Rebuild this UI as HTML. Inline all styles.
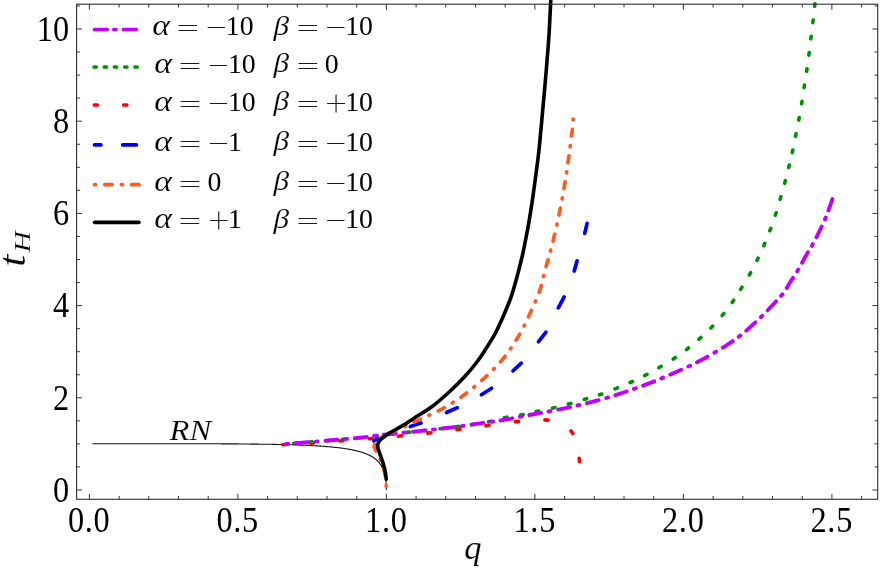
<!DOCTYPE html>
<html><head><meta charset="utf-8"><title>t_H vs q</title>
<style>html,body{margin:0;padding:0;background:#fff}svg{display:block}text{white-space:pre}.thin text{stroke:#fff;stroke-width:0.15px}.bold text{stroke:none}text.it{stroke:#fff;stroke-width:0.15px}</style></head>
<body>
<svg width="881" height="568" viewBox="0 0 881 568" style="will-change:transform">
<g fill="none" stroke-linecap="round" stroke-linejoin="round">
<path d="M92.3,443.7L93.9,443.7L95.5,443.7L97.1,443.7L98.7,443.7L100.3,443.7L101.9,443.7L103.5,443.7L105.1,443.7L106.6,443.7L108.2,443.7L109.8,443.7L111.3,443.7L112.9,443.7L114.4,443.7L116.0,443.7L117.5,443.7L119.1,443.7L120.6,443.7L122.1,443.7L123.6,443.7L125.2,443.7L126.7,443.7L128.2,443.7L129.7,443.7L131.2,443.7L132.7,443.7L134.2,443.7L135.7,443.7L137.1,443.7L138.6,443.7L140.1,443.7L141.5,443.7L143.0,443.7L144.5,443.7L145.9,443.7L147.4,443.7L148.8,443.7L150.2,443.7L151.7,443.7L153.1,443.7L154.5,443.7L155.9,443.7L157.4,443.7L158.8,443.7L160.2,443.7L161.6,443.7L163.0,443.7L164.4,443.7L165.7,443.7L167.1,443.7L168.5,443.7L169.9,443.7L171.2,443.7L172.6,443.7L173.9,443.7L175.3,443.7L176.6,443.7L178.0,443.7L179.3,443.7L180.7,443.7L182.0,443.7L183.3,443.7L184.6,443.7L185.9,443.7L187.3,443.7L188.6,443.8L189.9,443.8L191.2,443.8L192.4,443.8L193.7,443.8L195.0,443.8L196.3,443.8L197.6,443.8L198.8,443.8L200.1,443.8L201.3,443.8L202.6,443.8L203.9,443.8L205.1,443.8L206.3,443.8L207.6,443.8L208.8,443.8L210.0,443.8L211.2,443.8L212.5,443.8L213.7,443.8L214.9,443.8L216.1,443.8L217.3,443.8L218.5,443.8L219.7,443.8L220.8,443.8L222.0,443.9L223.2,443.9L224.4,443.9L225.5,443.9L226.7,443.9L227.9,443.9L229.0,443.9L230.2,443.9L231.3,443.9L232.4,443.9L233.6,443.9L234.7,443.9L235.8,443.9L236.9,443.9L238.1,443.9L239.2,444.0L240.3,444.0L241.4,444.0L242.5,444.0L243.6,444.0L244.7,444.0L245.7,444.0L246.8,444.0L247.9,444.0L249.0,444.0L250.0,444.1L251.1,444.1L252.1,444.1L253.2,444.1L254.2,444.1L255.3,444.1L256.3,444.1L257.4,444.1L258.4,444.1L259.4,444.2L260.4,444.2L261.4,444.2L262.5,444.2L263.5,444.2L264.5,444.2L265.5,444.2L266.5,444.3L267.4,444.3L268.4,444.3L269.4,444.3L270.4,444.3L271.4,444.3L272.3,444.4L273.3,444.4L274.2,444.4L275.2,444.4L276.1,444.4L277.1,444.5L278.0,444.5L279.0,444.5L279.9,444.5L280.8,444.5L281.7,444.6L282.7,444.6L283.6,444.6L284.5,444.6L285.4,444.6L286.3,444.7L287.2,444.7L288.1,444.7L289.0,444.7L289.9,444.8L290.7,444.8L291.6,444.8L292.5,444.8L293.3,444.9L294.2,444.9L295.1,444.9L295.9,444.9L296.8,445.0L297.6,445.0L298.4,445.0L299.3,445.1L300.1,445.1L300.9,445.1L301.7,445.2L302.6,445.2L303.4,445.2L304.2,445.3L305.0,445.3L305.8,445.3L306.6,445.4L307.4,445.4L308.2,445.4L308.9,445.5L309.7,445.5L310.5,445.5L311.3,445.6L312.0,445.6L312.8,445.7L313.6,445.7L314.3,445.7L315.1,445.8L315.8,445.8L316.5,445.9L317.3,445.9L318.0,446.0L318.7,446.0L319.5,446.1L320.2,446.1L320.9,446.1L321.6,446.2L322.3,446.2L323.0,446.3L323.7,446.3L324.4,446.4L325.1,446.4L325.8,446.5L326.5,446.6L327.1,446.6L327.8,446.7L328.5,446.7L329.1,446.8L329.8,446.8L330.5,446.9L331.1,447.0L331.8,447.0L332.4,447.1L333.0,447.1L333.7,447.2L334.3,447.3L334.9,447.3L335.5,447.4L336.2,447.5L336.8,447.5L337.4,447.6L338.0,447.7L338.6,447.7L339.2,447.8L339.8,447.9L340.4,448.0L341.0,448.0L341.5,448.1L342.1,448.2L342.7,448.3L343.3,448.3L343.8,448.4L344.4,448.5L344.9,448.6L345.5,448.7L346.0,448.8L346.6,448.8L347.1,448.9L347.7,449.0L348.2,449.1L348.7,449.2L349.3,449.3L349.8,449.4L350.3,449.5L350.8,449.6L351.3,449.7L351.8,449.8L352.3,449.9L352.8,450.0L353.3,450.1L353.8,450.2L354.3,450.3L354.8,450.4L355.2,450.5L355.7,450.6L356.2,450.7L356.6,450.8L357.1,450.9L357.6,451.1L358.0,451.2L358.5,451.3L358.9,451.4L359.3,451.5L359.8,451.7L360.2,451.8L360.6,451.9L361.1,452.0L361.5,452.2L361.9,452.3L362.3,452.4L362.7,452.6L363.1,452.7L363.5,452.8L363.9,453.0L364.3,453.1L364.7,453.3L365.1,453.4L365.5,453.6L365.9,453.7L366.3,453.9L366.6,454.0L367.0,454.2L367.4,454.3L367.7,454.5L368.1,454.6L368.4,454.8L368.8,455.0L369.1,455.1L369.5,455.3L369.8,455.5L370.1,455.7L370.5,455.8L370.8,456.0L371.1,456.2L371.4,456.4L371.8,456.5L372.1,456.7L372.4,456.9L372.7,457.1L373.0,457.3L373.3,457.5L373.6,457.7L373.9,457.9L374.1,458.1L374.4,458.3L374.7,458.5L375.0,458.7L375.3,458.9L375.5,459.1L375.8,459.4L376.0,459.6L376.3,459.8L376.6,460.0L376.8,460.2L377.1,460.5L377.3,460.7L377.5,460.9L377.8,461.2L378.0,461.4L378.2,461.7L378.5,461.9L378.7,462.2L378.9,462.4L379.1,462.7L379.3,462.9L379.5,463.2L379.7,463.4L379.9,463.7L380.1,464.0L380.3,464.2L380.5,464.5L380.7,464.8L380.9,465.1L381.1,465.4L381.3,465.7L381.4,465.9L381.6,466.2L381.8,466.5L381.9,466.8L382.1,467.1L382.3,467.4L382.4,467.7L382.6,468.1L382.7,468.4L382.9,468.7L383.0,469.0L383.1,469.3L383.3,469.7L383.4,470.0L383.5,470.3L383.7,470.7L383.8,471.0L383.9,471.4L384.0,471.7L384.1,472.1L384.2,472.4L384.3,472.8L384.4,473.1L384.5,473.5L384.6,473.9L384.7,474.3L384.8,474.6L384.9,475.0L385.0,475.4L385.1,475.8L385.2,476.2L385.2,476.6L385.3,477.0L385.4,477.4L385.5,477.8L385.5,478.2L385.6,478.6L385.6,479.0L385.7,479.4L385.8,479.8L385.8,480.3L385.9,480.7L385.9,481.1L385.9,481.5L386.0,482.0L386.0,482.4L386.1,482.9L386.1,483.3L386.1,483.7L386.1,484.2L386.2,484.6L386.2,485.1L386.2,485.5L386.2,486.0L386.2,486.4L386.3,486.9L386.3,487.3L386.3,487.8L386.3,488.2L386.3,488.6L386.3,489.0L386.3,489.4L386.3,489.8" stroke="#111" stroke-width="1.1" stroke-linecap="butt"/>
<path d="M282.7,444.7L285.9,444.5M310.5,443.1L313.7,442.9M339.8,441.0L343.0,440.8M369.1,438.7L372.3,438.5M398.4,436.2L401.6,435.8M427.8,433.1L431.0,432.7M456.9,429.6L460.1,429.2M485.9,425.6L489.1,425.2M515.3,421.6L518.5,421.4M544.9,419.9L548.1,420.1M571.0,431.0L572.8,433.6M579.2,458.4L579.6,461.6" stroke="#ff0000" stroke-width="3.6"/>
<path d="M293.8,443.4L296.4,443.2M309.6,442.1L312.2,441.9M326.7,440.7L329.3,440.4M342.4,439.3L345.0,439.1M358.1,437.9L360.7,437.6M374.6,435.9L377.1,435.5M390.9,434.0L393.5,433.7M407.1,432.4L409.7,432.1M423.4,430.6L426.0,430.4M440.0,428.8L442.6,428.5M456.2,426.8L458.8,426.4M472.5,424.5L475.0,424.1M488.5,421.8L491.0,421.3M504.3,417.8L506.9,417.2M520.6,415.0L523.2,414.6M536.2,411.6L538.8,411.0M552.5,408.2L555.1,407.6M568.3,404.1L570.9,403.5M584.2,399.5L586.6,398.7M599.4,394.8L601.8,394.0M615.1,388.8L617.5,387.8M630.1,382.5L632.5,381.5M644.6,375.6L647.0,374.4M658.9,367.7L661.1,366.3M673.2,359.0L675.4,357.6M686.5,349.6L688.5,348.0M699.0,339.2L701.0,337.4M710.9,327.9L712.7,326.1M722.2,315.5L723.8,313.5M732.3,302.4L733.7,300.2M740.6,289.4L742.0,287.2M749.4,274.9L750.6,272.7M756.9,260.5L758.1,258.1M763.8,245.7L764.8,243.3M769.8,230.7L770.8,228.3M775.4,215.2L776.2,212.8M780.1,199.2L780.9,196.8M784.7,183.3L785.3,180.7M788.7,167.6L789.3,165.0M792.2,152.6L792.8,150.0M795.5,136.3L796.1,133.7M798.8,120.1L799.2,117.5M801.6,103.8L802.0,101.2M804.1,87.6L804.5,85.0M806.6,71.3L807.0,68.7M808.8,55.1L809.2,52.5M810.8,38.8L811.2,36.2M812.8,22.6L813.2,20.0M814.7,6.3L814.9,3.7" stroke="#009000" stroke-width="3.6"/>
<path d="M281.3,444.4C293.2,443.4 335.9,440.0 352.8,438.4C369.7,436.8 370.7,436.2 382.5,434.9C394.3,433.6 411.3,432.0 423.8,430.6C436.3,429.2 446.5,428.1 457.5,426.7C468.5,425.2 482.9,422.9 490.0,421.9C497.1,420.9 495.0,421.5 500.0,420.6C505.0,419.8 512.8,418.2 520.0,416.8C527.2,415.4 534.6,414.1 543.1,412.5C551.6,410.9 561.8,409.0 571.3,406.9C580.8,404.8 591.0,402.3 600.0,399.8C609.0,397.3 616.7,394.8 625.0,392.0C633.3,389.2 641.7,386.2 650.0,383.0C658.3,379.8 666.7,376.2 675.0,372.5C683.3,368.8 691.7,365.2 700.0,360.8C708.3,356.4 717.9,350.8 725.0,346.3C732.1,341.8 736.7,338.5 742.5,333.8C748.3,329.1 754.6,323.2 760.0,318.0C765.4,312.8 771.0,306.8 775.0,302.5C779.0,298.2 781.3,295.8 783.8,292.5C786.3,289.2 787.5,286.4 790.0,282.5C792.5,278.6 796.1,273.4 798.8,268.8C801.5,264.2 803.9,259.2 806.3,255.0C808.7,250.8 810.7,248.0 813.0,243.8C815.3,239.6 817.8,234.6 820.0,230.0C822.2,225.4 824.5,220.7 826.3,216.3C828.1,211.9 829.6,207.2 830.8,203.8C832.0,200.5 833.0,197.5 833.5,196.2" stroke="#bf00ff" stroke-width="3.9" stroke-dasharray="12 7.7 2 7.7" stroke-dashoffset="14.6"/>
<path d="M373.9,441.0L378.2,438.4" stroke="#0000ff" stroke-width="3.7"/>
<path d="M410.3,426.6L421.0,423.0" stroke="#0000ff" stroke-width="3.7"/>
<path d="M446.5,412.5L457.3,407.8" stroke="#0000ff" stroke-width="3.7"/>
<path d="M481.4,394.7L491.6,388.3" stroke="#0000ff" stroke-width="3.7"/>
<path d="M513.0,370.9L521.3,363.1" stroke="#0000ff" stroke-width="3.7"/>
<path d="M538.5,341.7L546.0,332.1" stroke="#0000ff" stroke-width="3.7"/>
<path d="M558.3,307.9L564.2,296.9" stroke="#0000ff" stroke-width="3.7"/>
<path d="M574.2,271.0L577.1,260.8" stroke="#0000ff" stroke-width="3.7"/>
<path d="M584.7,233.4L587.1,223.4" stroke="#0000ff" stroke-width="3.7"/>
<path d="M573.2,119.0C573.1,120.6 572.8,125.8 572.5,128.8C572.2,131.8 571.8,133.1 571.3,137.0C570.8,140.9 570.0,147.8 569.5,152.0C569.0,156.2 568.6,158.2 568.0,162.5C567.4,166.8 566.6,172.5 565.8,177.5C565.0,182.5 564.3,187.1 563.3,192.5C562.3,197.9 561.2,204.2 560.0,210.0C558.8,215.8 557.6,221.7 556.3,227.5C555.0,233.3 553.4,239.6 552.0,245.0C550.6,250.4 549.4,255.0 548.0,260.0C546.6,265.0 545.1,270.0 543.8,275.0C542.5,280.0 541.7,285.0 540.0,290.0C538.3,295.0 535.9,300.2 533.8,305.0C531.7,309.8 529.6,314.4 527.5,318.8C525.4,323.2 523.6,327.1 521.3,331.3C519.0,335.5 516.5,339.6 513.8,343.8C511.1,348.0 507.9,352.6 505.0,356.3C502.1,360.1 499.4,363.0 496.3,366.3C493.2,369.6 489.9,373.0 486.3,376.3C482.8,379.6 478.7,383.2 475.0,386.3C471.3,389.4 467.7,392.3 464.0,395.0C460.3,397.7 456.7,400.1 452.9,402.5C449.1,404.9 445.2,407.3 441.3,409.4C437.4,411.5 433.4,413.1 429.4,415.0C425.4,416.9 421.5,418.7 417.5,420.6C413.5,422.5 409.9,424.4 405.6,426.3C401.4,428.2 395.6,430.4 392.0,432.0C388.4,433.6 386.2,434.6 384.0,435.8C381.8,437.0 380.0,437.9 378.5,439.0C377.0,440.1 375.9,441.2 375.2,442.5C374.5,443.8 374.2,445.2 374.3,446.5C374.4,447.8 374.8,448.2 375.6,450.0C376.4,451.8 378.0,454.3 379.2,457.0C380.4,459.7 381.9,462.5 383.0,466.0C384.1,469.5 385.1,474.7 385.6,478.0C386.1,481.3 386.1,484.7 386.2,486.0" stroke="#ff5a1f" stroke-width="3.7" stroke-dasharray="1.0 9.3 7.0 9.3"/>
<path d="M386.2,479.2C386.1,478.0 385.8,474.3 385.3,471.8C384.9,469.3 384.2,466.9 383.5,464.4C382.8,461.9 381.8,459.3 381.0,457.0C380.2,454.7 379.4,452.6 378.8,450.8C378.2,449.1 377.8,447.8 377.7,446.5C377.6,445.2 377.9,443.9 378.3,442.8C378.8,441.7 379.4,440.8 380.4,439.8C381.4,438.8 382.6,437.8 384.1,436.7C385.6,435.6 387.5,434.3 389.6,433.0C391.8,431.7 394.5,430.1 397.0,428.7C399.5,427.3 401.4,426.5 404.4,424.6C407.4,422.7 410.3,420.6 415.0,417.5C419.7,414.4 426.7,410.7 432.5,406.3C438.3,401.9 444.6,396.3 450.0,391.3C455.4,386.3 460.4,381.3 465.0,376.3C469.6,371.3 473.8,366.3 477.5,361.3C481.2,356.3 484.4,351.3 487.5,346.3C490.6,341.3 493.6,336.5 496.3,331.3C499.0,326.1 501.5,320.2 503.8,315.0C506.1,309.8 508.4,304.2 510.0,300.0C511.6,295.8 512.0,294.2 513.3,290.0C514.5,285.8 516.0,280.8 517.5,275.0C519.0,269.2 520.8,262.5 522.5,255.0C524.2,247.5 526.0,237.9 527.5,230.0C529.0,222.1 530.1,215.0 531.3,207.5C532.5,200.0 533.5,192.5 534.5,185.0C535.5,177.5 536.7,169.0 537.5,162.5C538.3,156.0 538.6,154.3 539.4,146.0C540.2,137.7 541.6,122.7 542.5,112.5C543.4,102.3 544.2,94.6 545.0,85.0C545.8,75.4 546.8,64.2 547.5,55.0C548.2,45.8 548.8,39.2 549.3,30.0C549.8,20.8 550.5,5.0 550.8,0.0" stroke="#000" stroke-width="3.6"/>
</g>
<rect x="76.6" y="4.2" width="801.1" height="495.1" fill="none" stroke="#2e2e2e" stroke-width="1.1"/>
<path d="M89.40,499.3v-5.5M89.40,4.2v5.5M119.10,499.3v-3.3M119.10,4.2v3.3M148.80,499.3v-3.3M148.80,4.2v3.3M178.50,499.3v-3.3M178.50,4.2v3.3M208.20,499.3v-3.3M208.20,4.2v3.3M237.90,499.3v-5.5M237.90,4.2v5.5M267.60,499.3v-3.3M267.60,4.2v3.3M297.30,499.3v-3.3M297.30,4.2v3.3M327.00,499.3v-3.3M327.00,4.2v3.3M356.70,499.3v-3.3M356.70,4.2v3.3M386.40,499.3v-5.5M386.40,4.2v5.5M416.10,499.3v-3.3M416.10,4.2v3.3M445.80,499.3v-3.3M445.80,4.2v3.3M475.50,499.3v-3.3M475.50,4.2v3.3M505.20,499.3v-3.3M505.20,4.2v3.3M534.90,499.3v-5.5M534.90,4.2v5.5M564.60,499.3v-3.3M564.60,4.2v3.3M594.30,499.3v-3.3M594.30,4.2v3.3M624.00,499.3v-3.3M624.00,4.2v3.3M653.70,499.3v-3.3M653.70,4.2v3.3M683.40,499.3v-5.5M683.40,4.2v5.5M713.10,499.3v-3.3M713.10,4.2v3.3M742.80,499.3v-3.3M742.80,4.2v3.3M772.50,499.3v-3.3M772.50,4.2v3.3M802.20,499.3v-3.3M802.20,4.2v3.3M831.90,499.3v-5.5M831.90,4.2v5.5M861.60,499.3v-3.3M861.60,4.2v3.3M76.6,490.00h5.4M877.8,490.00h-5.4M76.6,466.95h3.3M877.8,466.95h-3.3M76.6,443.90h3.3M877.8,443.90h-3.3M76.6,420.85h3.3M877.8,420.85h-3.3M76.6,397.80h5.4M877.8,397.80h-5.4M76.6,374.75h3.3M877.8,374.75h-3.3M76.6,351.70h3.3M877.8,351.70h-3.3M76.6,328.65h3.3M877.8,328.65h-3.3M76.6,305.60h5.4M877.8,305.60h-5.4M76.6,282.55h3.3M877.8,282.55h-3.3M76.6,259.50h3.3M877.8,259.50h-3.3M76.6,236.45h3.3M877.8,236.45h-3.3M76.6,213.40h5.4M877.8,213.40h-5.4M76.6,190.35h3.3M877.8,190.35h-3.3M76.6,167.30h3.3M877.8,167.30h-3.3M76.6,144.25h3.3M877.8,144.25h-3.3M76.6,121.20h5.4M877.8,121.20h-5.4M76.6,98.15h3.3M877.8,98.15h-3.3M76.6,75.10h3.3M877.8,75.10h-3.3M76.6,52.05h3.3M877.8,52.05h-3.3M76.6,29.00h5.4M877.8,29.00h-5.4M76.6,5.95h3.3M877.8,5.95h-3.3" stroke="#2a2a2a" stroke-width="0.95" fill="none"/>
<g font-family="'Liberation Serif', serif" font-size="35.2" fill="#000" class="bold" transform="scale(0.920,1)">
<text x="75.1" y="501.8" text-anchor="end">0</text>
<text x="75.1" y="409.6" text-anchor="end">2</text>
<text x="75.1" y="317.4" text-anchor="end">4</text>
<text x="75.1" y="225.2" text-anchor="end">6</text>
<text x="75.1" y="133.0" text-anchor="end">8</text>
<text x="75.1" y="40.8" text-anchor="end">10</text>
<text x="96.6" y="532.2" text-anchor="middle" textLength="45.5" lengthAdjust="spacing">0.0</text>
<text x="258.0" y="532.2" text-anchor="middle" textLength="45.5" lengthAdjust="spacing">0.5</text>
<text x="419.5" y="532.2" text-anchor="middle" textLength="45.5" lengthAdjust="spacing">1.0</text>
<text x="580.9" y="532.2" text-anchor="middle" textLength="45.5" lengthAdjust="spacing">1.5</text>
<text x="742.3" y="532.2" text-anchor="middle" textLength="45.5" lengthAdjust="spacing">2.0</text>
<text x="903.7" y="532.2" text-anchor="middle" textLength="45.5" lengthAdjust="spacing">2.5</text>
</g>
<g font-family="'Liberation Serif', serif" font-style="italic" fill="#000" class="thin">
<text x="472.8" y="558.9" font-size="34.6" text-anchor="middle">q</text>
<g transform="translate(25.4,266) rotate(-90)"><text x="0" y="0" font-size="38" transform="translate(-0.8,0) scale(1.15,1)">t</text><text x="0" y="0" font-size="23.8" transform="translate(13.6,4.7) scale(1.25,1)">H</text></g>
<text x="169.5" y="440.3" font-size="28.5" textLength="41.6" lengthAdjust="spacingAndGlyphs">RN</text>
</g>
<g fill="none" stroke-linecap="round" stroke-width="3.7">
<path d="M94.45,29.5H107.25M113.85,29.5H115.95M123.45,29.5H136.25" stroke="#bf00ff"/>
<path d="M94.05,67.0H96.15M104.25,67.0H106.35M114.45,67.0H116.55M124.75,67.0H126.85M135.05,67.0H137.15" stroke="#009000"/>
<path d="M94.35,105.0H97.45M123.75,105.0H126.85" stroke="#ff0000"/>
<path d="M94.55,144.9H100.95M122.65,144.9H136.45" stroke="#0000ff"/>
<path d="M94.55,184.7H95.75M104.85,184.7H112.15M121.35,184.7H122.45M131.45,184.7H138.95" stroke="#ff5a1f"/>
<path d="M94.60,222.3H138.90" stroke="#000"/>
</g>
<path d="M178.5,25.50h18.6M178.5,30.50h18.6M207.7,27.50h17.3M298.5,25.50h18.6M298.5,30.50h18.6M327.1,27.50h17.3M180.6,63.50h18.6M180.6,68.50h18.6M209.8,65.50h17.3M298.5,63.50h18.6M298.5,68.50h18.6M180.6,101.50h18.6M180.6,106.50h18.6M209.8,103.50h17.3M298.5,101.50h18.6M298.5,106.50h18.6M327.1,103.50h17.9M336.05,94.55v17.9M180.6,141.50h18.6M180.6,146.50h18.6M209.8,143.50h17.3M298.5,141.50h18.6M298.5,146.50h18.6M327.1,143.50h17.3M180.6,181.50h18.6M180.6,186.50h18.6M298.5,181.50h18.6M298.5,186.50h18.6M327.1,183.50h17.3M180.6,218.50h18.6M180.6,223.50h18.6M209.8,220.50h17.9M218.75,211.55v17.9M298.5,218.50h18.6M298.5,223.50h18.6M327.1,220.50h17.3" stroke="#1a1a1a" stroke-width="1.15" fill="none"/>
<g font-family="'Liberation Serif', serif" font-size="27.8" fill="#000">
<text transform="translate(152.2,35.1) scale(1.15,1)" font-style="italic" font-size="29.5" class="it">α</text>
<text x="225.8" y="35.1">10</text>
<text transform="translate(273.6,34.6) scale(1.12,1)" font-style="italic" font-size="28" class="it">β</text>
<text x="345.2" y="35.1">10</text>
<text transform="translate(154.3,72.6) scale(1.15,1)" font-style="italic" font-size="29.5" class="it">α</text>
<text x="227.9" y="72.6">10</text>
<text transform="translate(273.6,72.1) scale(1.12,1)" font-style="italic" font-size="28" class="it">β</text>
<text x="324.7" y="72.6">0</text>
<text transform="translate(154.3,110.5) scale(1.15,1)" font-style="italic" font-size="29.5" class="it">α</text>
<text x="227.9" y="110.5">10</text>
<text transform="translate(273.6,110.0) scale(1.12,1)" font-style="italic" font-size="28" class="it">β</text>
<text x="345.2" y="110.5">10</text>
<text transform="translate(154.3,150.6) scale(1.15,1)" font-style="italic" font-size="29.5" class="it">α</text>
<text x="227.9" y="150.6">1</text>
<text transform="translate(273.6,150.1) scale(1.12,1)" font-style="italic" font-size="28" class="it">β</text>
<text x="345.2" y="150.6">10</text>
<text transform="translate(154.3,190.6) scale(1.15,1)" font-style="italic" font-size="29.5" class="it">α</text>
<text x="207.4" y="190.6">0</text>
<text transform="translate(273.6,190.1) scale(1.12,1)" font-style="italic" font-size="28" class="it">β</text>
<text x="345.2" y="190.6">10</text>
<text transform="translate(154.3,228.0) scale(1.15,1)" font-style="italic" font-size="29.5" class="it">α</text>
<text x="227.9" y="228.0">1</text>
<text transform="translate(273.6,227.5) scale(1.12,1)" font-style="italic" font-size="28" class="it">β</text>
<text x="345.2" y="228.0">10</text>
</g>
</svg>
</body></html>
